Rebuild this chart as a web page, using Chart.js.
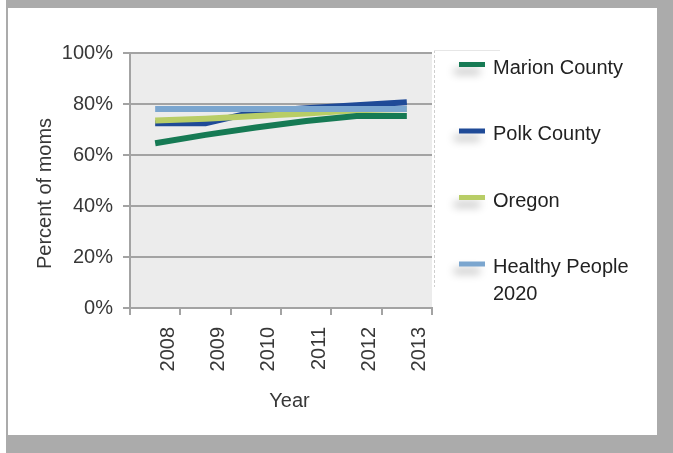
<!DOCTYPE html>
<html><head><meta charset="utf-8">
<script src="https://cdn.jsdelivr.net/npm/chart.js@4"></script>
<style>
html,body{margin:0;padding:0;background:#fff;width:673px;height:453px;overflow:hidden}
#frame{position:absolute;left:6px;top:0;width:667px;height:453px;background:#ababab}
#inner{position:absolute;left:8px;top:8px;width:649px;height:427px;background:#fff}
#c{position:absolute;left:0;top:0}
</style></head>
<body>
<div id="frame"></div><div id="inner"></div>
<canvas id="c" width="673" height="453"></canvas>
<script>
const years = ['2008','2009','2010','2011','2012','2013'];
const seriesNames = ['Marion County','Polk County','Oregon','Healthy People 2020'];
const marion = [64.6, 67.9, 70.8, 73.3, 75.3, 75.3];
const polk = [72.5, 72.5, 77.0, 78.3, 79.5, 80.7];
const oregon = [73.5, 74.2, 75.3, 76.3, 77.5, 78.0];
const healthy = [78, 78, 78, 78, 78, 78];
const yTicks = [0, 20, 40, 60, 80, 100];
const yTitle = 'Percent of moms';
const xTitle = 'Year';

const colors = ['#167a54', '#1f4a97', '#b8cd66', '#7ba6cf'];
const drawOrder = [0, 3, 2, 1];
const FONT = "'Liberation Sans', Arial, Helvetica, sans-serif";
const TEXT = '#383838';
const values = [marion, polk, oregon, healthy];

const decor = {
  id: 'decor',
  beforeDraw(chart) {
    const {ctx, chartArea: a} = chart;
    ctx.save();
    ctx.fillStyle = '#ececec';
    ctx.fillRect(a.left, a.top, a.right - a.left, a.bottom - a.top);
    ctx.restore();
  },
  afterDraw(chart) {
    const {ctx} = chart;
    ctx.save();
    // faint legend box edges
    ctx.strokeStyle = '#cfcfcf';
    ctx.lineWidth = 1;
    ctx.setLineDash([3, 2]);
    ctx.beginPath(); ctx.moveTo(434.5, 50); ctx.lineTo(434.5, 287); ctx.stroke();
    ctx.setLineDash([]);
    ctx.strokeStyle = '#e6e6e6';
    ctx.beginPath(); ctx.moveTo(434, 50.5); ctx.lineTo(500, 50.5); ctx.stroke();

    // axis titles
    ctx.fillStyle = TEXT;
    ctx.font = '20px ' + FONT;
    ctx.textAlign = 'center';
    ctx.textBaseline = 'alphabetic';
    ctx.fillText(xTitle, 289.5, 406.5);
    ctx.save();
    ctx.translate(50.5, 193.5);
    ctx.rotate(-Math.PI / 2);
    ctx.fillText(yTitle, 0, 0);
    ctx.restore();

    // legend
    ctx.textAlign = 'left';
    chart.data.datasets.forEach((ds, i) => {
      const cy = 64.5 + i * 66.5;
      ctx.save();
      ctx.shadowColor = 'rgba(0,0,0,0.28)';
      ctx.shadowBlur = 9;
      ctx.shadowOffsetX = -5;
      ctx.shadowOffsetY = 7;
      ctx.fillStyle = ds.borderColor;
      ctx.fillRect(459, cy - 2.5, 26, 5);
      ctx.restore();
      ctx.fillStyle = '#222';
      ctx.font = '20px ' + FONT;
      const words = ds.label.split(' ');
      const lines = [];
      let cur = '';
      words.forEach(w => {
        const t = cur ? cur + ' ' + w : w;
        if (ctx.measureText(t).width > 155 && cur) { lines.push(cur); cur = w; } else cur = t;
      });
      lines.push(cur);
      lines.forEach((ln, k) => ctx.fillText(ln, 493, cy + 9 + k * 27));
    });
    ctx.restore();
  }
};

new Chart(document.getElementById('c'), {
  type: 'line',
  data: {
    labels: years,
    datasets: seriesNames.map((n, i) => ({
      label: n,
      data: values[i],
      borderColor: colors[i],
      backgroundColor: colors[i],
      borderWidth: 6,
      pointRadius: 0,
      tension: 0,
      fill: false,
      order: drawOrder[i],
      borderCapStyle: 'butt'
    }))
  },
  options: {
    responsive: false,
    animation: false,
    devicePixelRatio: 1,
    layout: {padding: {left: 0, top: 53, right: 241, bottom: 0}},
    plugins: {legend: {display: false}, tooltip: {enabled: false}},
    scales: {
      x: {
        type: 'category',
        offset: true,
        afterFit(s) { s.height = 145; },
        grid: {display: true, offset: true, drawOnChartArea: false, drawTicks: true, tickLength: 7, color: '#a3a3a3', lineWidth: 2},
        border: {display: true, color: '#a3a3a3', width: 2},
        ticks: {maxRotation: 90, minRotation: 90, labelOffset: 13, padding: 12, color: TEXT, font: {family: FONT, size: 20}}
      },
      y: {
        min: 0, max: 100,
        afterFit(s) { s.width = 130; },
        afterBuildTicks(s) { s.ticks = yTicks.map(v => ({value: v})); },
        grid: {display: true, drawTicks: true, tickLength: 7, color: '#a3a3a3', lineWidth: 2},
        border: {display: true, color: '#a3a3a3', width: 2},
        ticks: {padding: 10, color: TEXT, font: {family: FONT, size: 20}, callback: v => v + '%'}
      }
    }
  },
  plugins: [decor]
});
</script>
</body></html>
